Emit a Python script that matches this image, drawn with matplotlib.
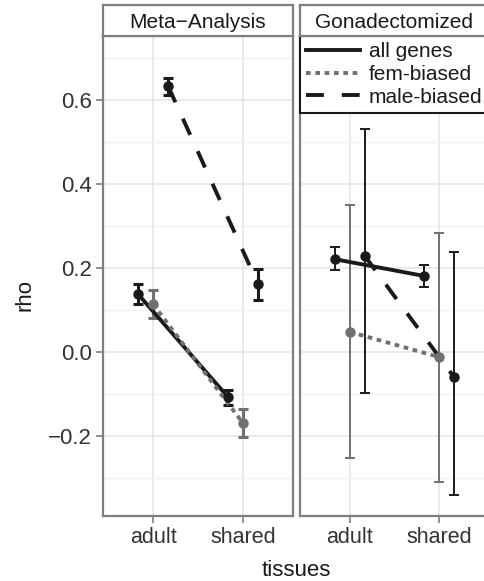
import numpy as np
import matplotlib
matplotlib.use('Agg')
import matplotlib.pyplot as plt

plt.rcParams['font.family'] = ['Liberation Sans', 'DejaVu Sans']

# dati
tissues = ['adult', 'shared']
series = ['all genes', 'fem-biased', 'male-biased']

meta_mean = {'all genes': [0.138, -0.107], 'fem-biased': [0.114, -0.169], 'male-biased': [0.633, 0.162]}
meta_lo = {'all genes': [0.114, -0.125], 'fem-biased': [0.081, -0.202], 'male-biased': [0.612, 0.124]}
meta_hi = {'all genes': [0.162, -0.090], 'fem-biased': [0.148, -0.136], 'male-biased': [0.652, 0.198]}

gon_mean = {'all genes': [0.221, 0.181], 'fem-biased': [0.048, -0.012], 'male-biased': [0.229, -0.060]}
gon_lo = {'all genes': [0.195, 0.155], 'fem-biased': [-0.252, -0.310], 'male-biased': [-0.098, -0.340]}
gon_hi = {'all genes': [0.250, 0.207], 'fem-biased': [0.350, 0.283], 'male-biased': [0.531, 0.238]}

colori = {'all genes': '#1a1a1a', 'fem-biased': '#707070', 'male-biased': '#1a1a1a'}
stili = {'all genes': '-', 'fem-biased': (0, (1.2, 1.2)), 'male-biased': (0, (4.6, 4.6))}
dodge = {'all genes': -0.167, 'fem-biased': 0.0, 'male-biased': 0.167}

fig = plt.figure(figsize=(4.84, 5.81), dpi=100)
W, H = 484, 581
bordo = '#7f7f7f'


def pannello(x0, x1, titolo, mean, lo, hi, lw_err, cap, yticks):
    ax = fig.add_axes([x0 / W, 1 - 516 / H, (x1 - x0) / W, (516 - 36) / H])
    x = np.arange(1, len(tissues) + 1)
    for s in series:
        xs = x + dodge[s]
        m = np.array(mean[s])
        err = [m - np.array(lo[s]), np.array(hi[s]) - m]
        ax.errorbar(xs, m, yerr=err, fmt='none', ecolor=colori[s], elinewidth=lw_err,
                    capsize=cap, capthick=lw_err, zorder=3)
        ax.plot(xs, m, color=colori[s], linestyle=stili[s], lw=2.8, label=s, zorder=4)
        ax.plot(xs, m, 'o', color=colori[s], ms=6.5, zorder=5)
    ax.set_xlim(0.444, 2.556)
    ax.set_ylim(-0.39, 0.752)
    ax.set_xticks(x)
    ax.set_xticklabels(tissues, fontsize=15.5, color='#333333')
    ax.set_yticks([-0.2, 0.0, 0.2, 0.4, 0.6])
    ax.set_yticks([-0.3, -0.1, 0.1, 0.3, 0.5, 0.7], minor=True)
    ax.grid(True, which='major', color='#e6e6e6', lw=1.2, zorder=0)
    ax.grid(True, which='minor', axis='y', color='#f2f2f2', lw=1.0, zorder=0)
    ax.tick_params(which='minor', length=0)
    ax.tick_params(axis='both', color=bordo, length=5, width=1.2, pad=3)
    if yticks:
        ax.set_yticklabels(['\u22120.2', '0.0', '0.2', '0.4', '0.6'], fontsize=16, color='#333333')
    else:
        ax.tick_params(axis='y', length=0, labelleft=False)
    for sp in ax.spines.values():
        sp.set_color(bordo)
        sp.set_linewidth(1.6)
    # striscia del titolo
    st = fig.add_axes([x0 / W, 1 - 36 / H, (x1 - x0) / W, 31 / H])
    st.set_xticks([])
    st.set_yticks([])
    for sp in st.spines.values():
        sp.set_color(bordo)
        sp.set_linewidth(1.6)
    st.text(0.5, 0.42, titolo, ha='center', va='center', fontsize=15, color='#1a1a1a',
            transform=st.transAxes)
    return ax


ax1 = pannello(103, 293, 'Meta\u2212Analysis', meta_mean, meta_lo, meta_hi, 2.2, 3.8, True)
ax2 = pannello(300, 489, 'Gonadectomized', gon_mean, gon_lo, gon_hi, 1.4, 3.5, False)

leg = ax2.legend(loc='upper left', bbox_to_anchor=(0, 1), borderaxespad=0, fontsize=15,
                 handlelength=2.6, handletextpad=0.4, labelspacing=0.18, borderpad=0.3,
                 fancybox=False, framealpha=1)
leg.get_frame().set_edgecolor('#1a1a1a')
leg.get_frame().set_linewidth(1.5)
for t in leg.get_texts():
    t.set_color('#1a1a1a')

fig.text(25 / W, 1 - 295 / H, 'rho', rotation=90, ha='center', va='center', fontsize=16, color='#1a1a1a')
fig.text(296 / W, 1 - 571 / H, 'tissues', ha='center', va='center', fontsize=16, color='#1a1a1a')

plt.savefig('out.png', dpi=100)
